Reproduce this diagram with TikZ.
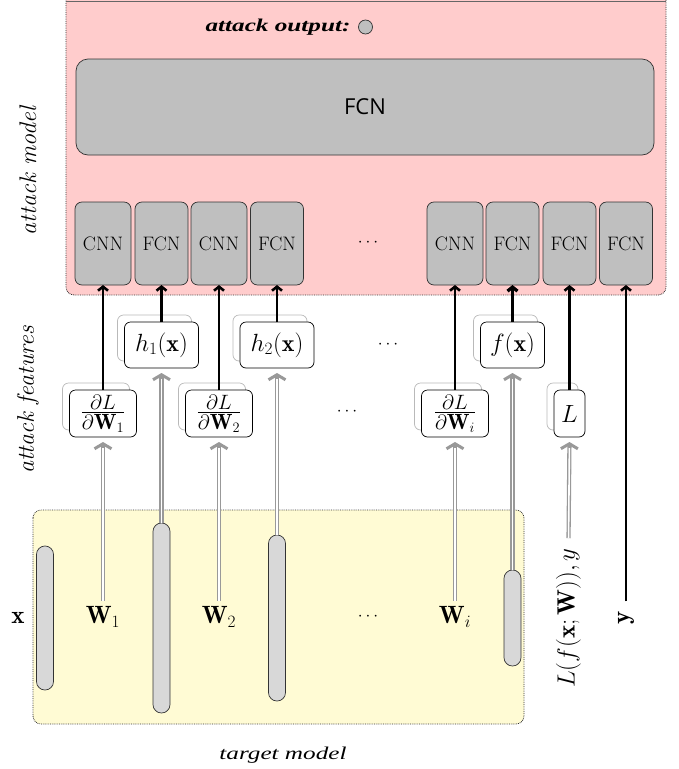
\documentclass[tikz,border=0pt]{standalone}
\usepackage{fontspec}
\newfontfamily\fcnsans{Open Sans}
\newfontfamily\wideserif[FakeStretch=1.4]{Liberation Serif}
\usetikzlibrary{arrows.meta,shadows}

\definecolor{pinkbg}{RGB}{255,204,204}
\definecolor{yellowbg}{RGB}{255,251,212}
\definecolor{unitgray}{RGB}{191,191,191}
\definecolor{capgray}{RGB}{216,216,216}

% partial derivative of the loss, stacked compactly
\newcommand{\gradfrac}[1]{\frac{\textstyle\partial L\rule[-3pt]{0pt}{3pt}}{\textstyle\rule{0pt}{16pt}\partial\mathbf{W}_{#1}}}

\begin{document}
\begin{tikzpicture}[x=1pt,y=-1pt,
  every node/.style={inner sep=0pt, outer sep=0pt},
  region/.style={draw=black!80, densely dotted, line width=0.8pt, rounded corners=8pt},
  unit/.style={draw=black!80, fill=unitgray, rounded corners=7pt, line width=0.7pt,
    minimum height=83pt, font=\fontsize{19.5}{22}\selectfont},
  cnnunit/.style={unit, minimum width=56pt},
  fcnunit/.style={unit, minimum width=53pt},
  feat/.style={draw=black, fill=white, rounded corners=6pt, line width=0.7pt,
    minimum height=46pt, font=\fontsize{24}{28}\selectfont,
    copy shadow={shadow xshift=-7pt, shadow yshift=7pt, draw=gray!55, fill=white, line width=0.7pt}},
  gradfeat/.style={feat, minimum width=67pt, minimum height=47pt, font=\fontsize{22}{26}\selectfont},
  layer/.style={draw=black!80, fill=capgray, rounded corners=8.4pt, minimum width=17pt, line width=0.7pt},
  featout/.style={draw=black, line width=2.6pt, -{Straight Barb[length=4pt,width=10pt]}},
  featin/.style={draw=gray!80, line width=4.2pt, shorten >=5pt,
    -{Straight Barb[length=5pt,width=17pt,line width=3pt]},
    postaction={draw=white, line width=1.6pt, -, shorten >=11pt}},
  lbl/.style={inner sep=6pt, font=\fontsize{25}{29}\selectfont},
  side/.style={rotate=90, font=\fontsize{24}{28}\selectfont\itshape},
  dots/.style={font=\fontsize{18}{20}\selectfont},
]
\useasboundingbox (0,0) rectangle (678,769);

% attack model region
\draw[region, fill=pinkbg] (66,-12) rectangle (666,295);
\draw[black!60, line width=1pt] (66,1.2) -- (666,1.2);
\node[side] (attmodel) at (28,171) {attack model};

\node (outlabel) at (278,27) {\wideserif\fontsize{18}{20}\selectfont\bfseries\itshape attack output:};
\node[circle, draw=black!80, fill=unitgray, minimum size=14pt, line width=0.7pt] (outunit) at (365.5,27) {};

\node[draw=black!80, fill=unitgray, rounded corners=12pt, line width=0.7pt,
      minimum width=578pt, minimum height=96pt, font=\fcnsans\fontsize{22}{26}\selectfont]
      (fcnbig) at (365,107) {FCN};

% per-feature sub-networks
\node[cnnunit] (u1) at (103,243.5) {CNN};
\node[fcnunit] (u2) at (161.5,243.5) {FCN};
\node[cnnunit] (u3) at (219,243.5) {CNN};
\node[fcnunit] (u4) at (277,243.5) {FCN};
\node[dots] (udots) at (368,243) {$\cdots$};
\node[cnnunit] (u5) at (455,243.5) {CNN};
\node[fcnunit] (u6) at (512.5,243.5) {FCN};
\node[fcnunit] (u7) at (569.5,243.5) {FCN};
\node[fcnunit] (u8) at (626,243.5) {FCN};

% attack features
\node[side] (attfeat) at (28,400) {attack features};
\node[gradfeat] (dw1) at (103,413.5) {$\gradfrac{1}$};
\node[feat, minimum width=74pt] (h1) at (161.5,345) {$h_1(\mathbf{x})$};
\node[gradfeat] (dw2) at (219,413.5) {$\gradfrac{2}$};
\node[feat, minimum width=74pt] (h2) at (277,345) {$h_2(\mathbf{x})$};
\node[dots] (fdotsA) at (388,345) {$\cdots$};
\node[dots] (fdotsB) at (347,412) {$\cdots$};
\node[gradfeat] (dwi) at (455,413.5) {$\gradfrac{i}$};
\node[feat, minimum width=64pt] (fx) at (512.5,345) {$f(\mathbf{x})$};
\node[feat, minimum width=31pt, minimum height=47pt] (loss) at (569.5,413.5) {$L$};

% target model region
\draw[region, fill=yellowbg] (33,510) rectangle (524,724);
\node[font=\wideserif\fontsize{18}{20}\selectfont\itshape] (tgtlabel) at (283,755) {target model};

\node[layer, minimum height=144pt] (c0) at (45,618) {};
\node[layer, minimum height=190pt] (c1) at (161.5,618) {};
\node[layer, minimum height=166pt] (c2) at (277,618) {};
\node[layer, minimum height=96pt] (c3) at (512.5,618) {};

\node[lbl] (xin) at (18,618) {$\mathbf{x}$};
\node[lbl] (w1) at (103,617) {$\mathbf{W}_1$};
\node[lbl] (w2) at (219,617) {$\mathbf{W}_2$};
\node[dots] (tdots) at (368,617) {$\cdots$};
\node[lbl] (wi) at (455,617) {$\mathbf{W}_i$};
\node[lbl, rotate=90] (lossin) at (568.5,618) {$L(f(\mathbf{x};\mathbf{W})),y$};
\node[lbl, rotate=90] (yin) at (626,618) {$\mathbf{y}$};

% target model -> attack features
\draw[featin] (w1.north) -- (dw1.south);
\draw[featin] (c1.north) -- (h1.south);
\draw[featin] (w2.north) -- (dw2.south);
\draw[featin] (c2.north) -- (h2.south);
\draw[featin] (wi.north) -- (dwi.south);
\draw[featin] (c3.north) -- (fx.south);
\draw[featin, shorten <=4pt] (lossin.east) -- (loss.south);

% attack features -> attack model
\draw[featout] (dw1.north) -- (u1.south);
\draw[featout] (h1.north) -- (u2.south);
\draw[featout] (dw2.north) -- (u3.south);
\draw[featout] (h2.north) -- (u4.south);
\draw[featout] (dwi.north) -- (u5.south);
\draw[featout, line width=3.3pt] (fx.north) -- (u6.south);
\draw[featout] (loss.north) -- (u7.south);
\draw[featout, shorten <=4pt] (yin.east) -- (u8.south);
\end{tikzpicture}
\end{document}
